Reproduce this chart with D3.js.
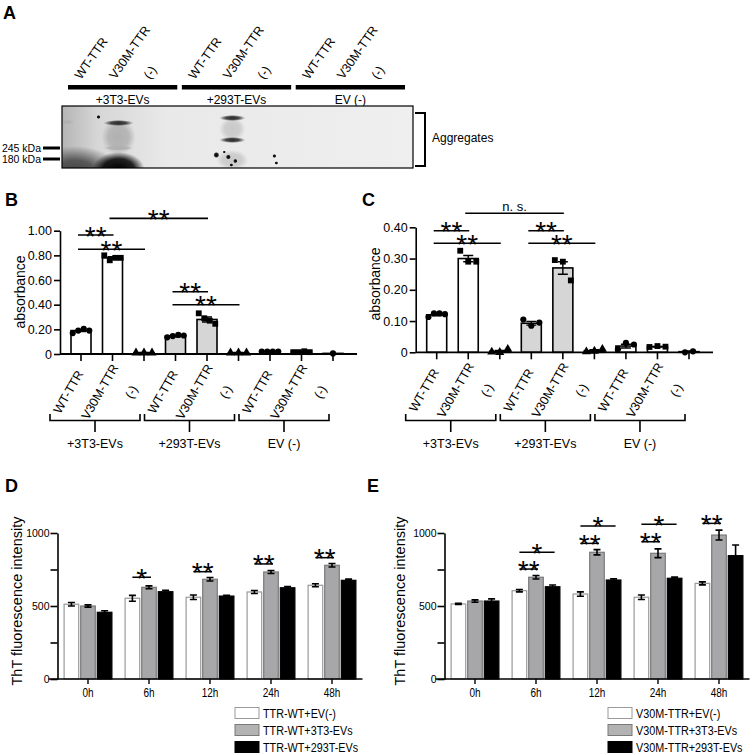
<!DOCTYPE html>
<html><head><meta charset="utf-8">
<script src="https://cdn.jsdelivr.net/npm/d3@7"></script>
<style>
body{margin:0;background:#fff}
svg{display:block;font-family:"Liberation Sans",Arial,sans-serif}
</style>
</head><body><svg id="c" width="754" height="755"></svg>
<script>
// ---------------- DATA ----------------
const laneLabels = ["WT-TTR","V30M-TTR","(-)"];
const groupLabels = ["+3T3-EVs","+293T-EVs","EV (-)"];
const markerLabels = ["245 kDa","180 kDa"];
const blotSide = "Aggregates";

const bMeans = [0.19,0.78,0.01, 0.145,0.28,0.01, 0.02,0.015,0.005];
const bErr   = [0.008,0.01,0.002, 0.005,0.02,0.002, 0.002,0.002,0];
const bPoints = [[0.17,0.19,0.205,0.19],[0.80,0.76,0.78,0.78],[0.01,0.01,0.01],
                 [0.135,0.145,0.155,0.15],[0.33,0.29,0.27,0.245],[0.01,0.01,0.01],
                 [0.02,0.02,0.02,0.02],[0.015,0.015,0.022,0.015],[0.005]];
const cMeans = [0.12,0.30,0.003, 0.093,0.27,0.005, 0.02,0.018,0.002];
const cErr   = [0.003,0.01,0.003, 0.006,0.02,0.003, 0.006,0.001,0.002];
const cPoints = [[0.113,0.125,0.125,0.122],[0.325,0.29,0.29],[0.001,0.0,0.01],
                 [0.105,0.085,0.095],[0.295,0.29,0.23],[0.002,0.004,0.01],
                 [0.01,0.03,0.025],[0.017,0.02,0.018],[0.0,0.003]];
const pointShapes = ["circle","square","triangle","circle","square","triangle","circle","square","circle"];
const bTicks = [0,0.2,0.4,0.6,0.8,1.0];
const cTicks = [0,0.1,0.2,0.3,0.4];
// [from bar, to bar, level, label]
const bSig = [[0,1,0.965,"**"],[0,2,0.85,"**"],[1,4,1.10,"**"],[3,4,0.505,"**"],[3,5,0.40,"**"]];
const cSig = [[0,1,0.389,"**"],[0,2,0.349,"**"],[1,4,0.445,"n. s."],[3,4,0.389,"**"],[3,5,0.349,"**"]];

const times = ["0h","6h","12h","24h","48h"];
const tTicks = [0,250,500,750,1000];
const dSeries = ["TTR-WT+EV(-)","TTR-WT+3T3-EVs","TTR-WT+293T-EVs"];
const dMeans = [[512,553,560,596,642],[500,628,683,733,779],[457,598,568,625,676]];
const dErr   = [[12,20,15,10,10],[8,10,12,10,12],[10,10,5,8,8]];
const eSeries = ["V30M-TTR+EV(-)","V30M-TTR+3T3-EVs","V30M-TTR+293T-EVs"];
const eMeans = [[514,605,582,560,655],[534,697,868,861,986],[534,632,678,690,845]];
const eErr   = [[4,8,15,15,10],[8,12,18,30,34],[15,12,8,8,73]];
// [time index, series a, series b, level, label]
const dSig = [[1,0,1,697,"*"],[2,0,1,735,"**"],[3,0,1,788,"**"],[4,0,1,831,"**"]];
const eSig = [[1,0,1,753,"**"],[1,0,2,868,"*"],[2,0,1,929,"**"],[2,0,2,1048,"*"],
              [3,0,1,940,"**"],[3,0,2,1060,"*"],[4,0,1,1066,"**"]];

// ---------------- DRAW ----------------
const svg = d3.select("#c");
svg.append("rect").attr("width",754).attr("height",755).attr("fill","#fff");
const defs = svg.append("defs");
const lg = defs.append("linearGradient").attr("id","lgl").attr("x1",0).attr("x2",1).attr("y1",0).attr("y2",0);
lg.append("stop").attr("offset","0").attr("stop-color","#b5b5b5");
lg.append("stop").attr("offset","0.1").attr("stop-color","#d6d6d6");
lg.append("stop").attr("offset","0.3").attr("stop-color","#e9e9e9");
lg.append("stop").attr("offset","1").attr("stop-color","#efefef");
function rg(id,color,mid){
  const r = defs.append("radialGradient").attr("id",id);
  r.append("stop").attr("offset","0").attr("stop-color",color).attr("stop-opacity",1);
  r.append("stop").attr("offset",mid||"0.55").attr("stop-color",color).attr("stop-opacity",0.85);
  r.append("stop").attr("offset","1").attr("stop-color",color).attr("stop-opacity",0);
}
rg("gBlack","#000","0.6"); rg("gDark","#2a2a2a","0.5"); rg("gMid","#444","0.45"); rg("gSmear","#b0b0b0","0.6"); rg("gLight","#c9c9c9","0.6");
defs.append("clipPath").attr("id","blotclip").append("rect").attr("x",62).attr("y",106).attr("width",351).attr("height",62);

function letter(t,x,y){ svg.append("text").attr("x",x).attr("y",y).attr("font-weight","bold").attr("font-size",18).text(t); }
function narrow(g,t,x,y,size,anchor){
  return g.append("text").attr("transform",`translate(${x},${y}) scale(0.8,1)`).attr("text-anchor",anchor||"start").attr("font-size",size).text(t);
}

// ===== Panel A =====
letter("A",3,19);
const gA = d3.scaleBand().domain(groupLabels).range([68,405]).paddingInner(0.04);
const lA = d3.scalePoint().domain(laneLabels).range([13,82]);
groupLabels.forEach(g=>{
  svg.append("rect").attr("x",gA(g)).attr("y",85).attr("width",gA.bandwidth()).attr("height",4.5).attr("fill","#000");
  svg.append("text").attr("x",gA(g)+gA.bandwidth()/2).attr("y",104).attr("text-anchor","middle").attr("font-size",12).text(g);
  laneLabels.forEach(l=>{
    svg.append("text").attr("transform",`translate(${gA(g)+lA(l)},80) rotate(-55)`).attr("font-size",12.5).text(l);
  });
});
// blot (photograph approximation with soft gradient spots)
const blot = svg.append("g").attr("clip-path","url(#blotclip)");
const bl = (g,l)=> gA(groupLabels[g])+lA(laneLabels[l])+3;
const spot = (cx,cy,rx,ry,grad)=> blot.append("ellipse").attr("cx",cx).attr("cy",cy).attr("rx",rx).attr("ry",ry).attr("fill",`url(#${grad})`);
blot.append("rect").attr("x",62).attr("y",106).attr("width",351).attr("height",62).attr("fill","url(#lgl)");
spot(75,172,45,26,"gMid");
spot(bl(0,1),137,17,18,"gSmear");
spot(bl(0,1),123,15,3,"gDark");
spot(bl(0,1),148,15,2.5,"gSmear");
spot(bl(0,1),169,26,17,"gBlack");
spot(67,122,7,2.2,"gSmear");
spot(bl(0,1)-20,117,2,2,"gBlack");
spot(bl(1,1),129,13,12,"gLight");
spot(bl(1,1),118,13,3,"gDark");
spot(bl(1,1),140,13,3,"gDark");
spot(bl(1,1),160,16,10,"gLight");
[[-16,155,3],[-4,157,2.5],[3,161,2.2],[-1,165,1.8],[42,156,2],[44,163,1.8],[-8,152,1.5]].forEach(([dx,cy,r])=>spot(bl(1,1)+dx,cy,r,r,"gBlack"));
svg.append("rect").attr("x",62).attr("y",106).attr("width",351).attr("height",62).attr("fill","none").attr("stroke","#000").attr("stroke-width",1.2);
const mkY = d3.scalePoint().domain(markerLabels).range([148,159]);
markerLabels.forEach(m=>{
  svg.append("line").attr("x1",43).attr("x2",60).attr("y1",mkY(m)).attr("y2",mkY(m)).attr("stroke","#000").attr("stroke-width",3);
  svg.append("text").attr("x",41).attr("y",mkY(m)+3.5).attr("text-anchor","end").attr("font-size",10.5).text(m);
});
svg.append("path").attr("d","M415,113H425V166H415").attr("fill","none").attr("stroke","#000").attr("stroke-width",2);
svg.append("text").attr("x",432).attr("y",142).attr("font-size",12).text(blotSide);

// ===== Panels B & C =====
function stars(g,lab,cx,yy){
  g.append("text").attr("x",cx).attr("y",yy+10.5).attr("text-anchor","middle").attr("font-size",28).text(lab);
}
function drawBC(o){
  const g = svg.append("g");
  const x = d3.scalePoint().domain(d3.range(o.means.length)).range(o.xr);
  const y = d3.scaleLinear().domain([0,o.ymax]).range(o.yr);
  const ax = o.xr[0]-21, bw=20;
  const fills = i => Math.floor(i/3)===1 ? "#d6d6d6" : "#fff";
  g.selectAll(".bar").data(o.means).join("rect")
    .attr("x",(d,i)=>x(i)-bw/2).attr("width",bw)
    .attr("y",d=>y(d)).attr("height",d=>y(0)-y(d))
    .attr("fill",(d,i)=>fills(i)).attr("stroke","#000").attr("stroke-width",1.6);
  o.means.forEach((m,i)=>{
    const e=o.err[i]; if(!e) return;
    g.append("path").attr("d",`M${x(i)},${y(m-e)}V${y(m+e)}M${x(i)-5},${y(m+e)}h10M${x(i)-5},${y(m-e)}h10`)
      .attr("stroke","#000").attr("stroke-width",1.4).attr("fill","none");
  });
  o.points.forEach((pts,i)=>{
    const n=pts.length, sp = n>3?5.5:8;
    const sym = {circle:d3.symbolCircle,square:d3.symbolSquare,triangle:d3.symbolTriangle}[pointShapes[i]];
    const size = {circle:30,square:34,triangle:36}[pointShapes[i]];
    pts.forEach((v,j)=>{
      g.append("path").attr("d",d3.symbol(sym,size)())
        .attr("transform",`translate(${x(i)+(j-(n-1)/2)*sp},${y(v)})`).attr("fill","#000");
    });
  });
  const ya = g.append("g").attr("transform",`translate(${ax},0)`)
    .call(d3.axisLeft(y).tickValues(o.ticks).tickSize(6).tickSizeOuter(0).tickPadding(2)
      .tickFormat(d=>d===0?"0":d3.format(".2f")(d)));
  ya.selectAll("text").attr("font-size",12.5).attr("font-family","Liberation Sans, Arial, sans-serif").attr("fill","#000");
  ya.selectAll("line,path").attr("stroke","#000").attr("stroke-width",1.6);
  g.append("line").attr("x1",ax).attr("x2",x(o.means.length-1)+24).attr("y1",y(0)).attr("y2",y(0)).attr("stroke","#000").attr("stroke-width",1.8);
  o.means.forEach((m,i)=>{
    g.append("line").attr("x1",x(i)).attr("x2",x(i)).attr("y1",y(0)).attr("y2",y(0)+7).attr("stroke","#000").attr("stroke-width",1.6);
    g.append("text").attr("transform",`translate(${x(i)-9},${y(0)+40}) rotate(-60)`)
      .attr("text-anchor","middle").attr("font-size",12.5).text(laneLabels[i%3]);
  });
  groupLabels.forEach((gl,k)=>{
    const x0=x(k*3)-31, x1=x(k*3+2)-4, yb=414, yh=420.5, cx=(x0+x1)/2;
    g.append("path").attr("d",`M${x0},${yb}V${yh}H${x1}V${yb}M${cx},${yh}V432`).attr("fill","none").attr("stroke","#000").attr("stroke-width",1.6);
    g.append("text").attr("x",cx).attr("y",448).attr("text-anchor","middle").attr("font-size",12.5).text(gl);
  });
  o.sig.forEach(([a,b,lev,lab])=>{
    const x0=x(a)-3, x1=x(b)+1, yy=y(lev);
    g.append("line").attr("x1",x0).attr("x2",x1).attr("y1",yy).attr("y2",yy).attr("stroke","#000").attr("stroke-width",1.6);
    if(lab==="n. s.") g.append("text").attr("x",(x0+x1)/2).attr("y",yy-2).attr("text-anchor","middle").attr("font-size",13).text(lab);
    else stars(g,lab,(x0+x1)/2,yy);
  });
  g.append("text").attr("transform",`translate(${o.lx},${o.ly}) rotate(-90)`).attr("text-anchor","middle").attr("font-size",14).text("absorbance");
}
letter("B",5,206);
drawBC({means:bMeans,err:bErr,points:bPoints,ticks:bTicks,sig:bSig,ymax:1,xr:[81,333],yr:[354,230.7],lx:25,ly:292});
letter("C",362,206);
drawBC({means:cMeans,err:cErr,points:cPoints,ticks:cTicks,sig:cSig,ymax:0.4,xr:[436.7,689],yr:[352.3,227.3],lx:380,ly:284});

// ===== Panels D & E =====
function drawTime(o){
  const g = svg.append("g");
  const x = d3.scaleBand().domain(times).range([o.ax,o.ax+305]).paddingInner(0.2).paddingOuter(0.1);
  const xs = d3.scaleBand().domain([0,1,2]).range([0,x.bandwidth()]).paddingInner(0.06);
  const y = d3.scaleLinear().domain([0,1000]).range([679,533]);
  const fill = ["#fff","#a7a7aa","#000"], stroke=["#9a9a9a","#7a7a7a","#000"];
  o.means.forEach((ser,s)=>{
    g.selectAll(null).data(ser).join("rect")
      .attr("x",(d,t)=>x(times[t])+xs(s)+0.5).attr("width",xs.bandwidth()-1)
      .attr("y",d=>y(d)).attr("height",d=>y(0)-y(d))
      .attr("fill",fill[s]).attr("stroke",stroke[s]).attr("stroke-width",1.2);
  });
  o.means.forEach((ser,s)=>ser.forEach((m,t)=>{
    const cx=x(times[t])+xs(s)+xs.bandwidth()/2, e=o.err[s][t];
    g.append("path").attr("d",`M${cx},${y(m-e)}V${y(m+e)}M${cx-3.5},${y(m+e)}h7M${cx-3.5},${y(m-e)}h7`)
      .attr("stroke","#000").attr("stroke-width",1.6).attr("fill","none");
  }));
  const ya = g.append("g").attr("transform",`translate(${o.ax},0)`)
    .call(d3.axisLeft(y).tickValues(tTicks).tickSize(7).tickSizeOuter(0).tickPadding(1)
      .tickFormat(d=>d%500===0?d:""));
  ya.selectAll("text").attr("font-size",10.5).attr("font-family","Liberation Sans, Arial, sans-serif").attr("fill","#000");
  ya.selectAll("line,path").attr("stroke","#000").attr("stroke-width",1.6);
  g.append("line").attr("x1",o.ax-9).attr("x2",o.ax+305).attr("y1",y(0)).attr("y2",y(0)).attr("stroke","#000").attr("stroke-width",1.6);
  times.forEach(t=>{
    const cx=x(t)+x.bandwidth()/2;
    g.append("line").attr("x1",cx).attr("x2",cx).attr("y1",y(0)).attr("y2",y(0)+5).attr("stroke","#000").attr("stroke-width",1.4);
    narrow(g,t,cx,697,12.5,"middle");
  });
  o.sig.forEach(([t,a,b,lev,lab])=>{
    const x0=x(times[t])+xs(a)+xs.bandwidth()/2, x1=x(times[t])+xs(b)+xs.bandwidth()/2+2, yy=y(lev);
    g.append("line").attr("x1",x0).attr("x2",x1).attr("y1",yy).attr("y2",yy).attr("stroke","#000").attr("stroke-width",1.5);
    stars(g,lab,(x0+x1)/2,yy);
  });
  g.append("text").attr("transform",`translate(${o.lx},601) rotate(-90)`).attr("text-anchor","middle").attr("font-size",14.5).text("ThT fluorescence intensity");
  const ly = d3.scalePoint().domain(o.series).range([713,747]);
  o.series.forEach((sname,s)=>{
    g.append("rect").attr("x",o.legx).attr("y",ly(sname)-5.5).attr("width",24).attr("height",11)
      .attr("fill",s===1?"#b3b3b3":fill[s]).attr("stroke",stroke[s]).attr("stroke-width",1);
    narrow(g,sname,o.legx+28,ly(sname)+4.5,13.5);
  });
}
letter("D",5,492);
drawTime({means:dMeans,err:dErr,sig:dSig,series:dSeries,ax:57.5,lx:22,legx:235});
letter("E",367,492);
drawTime({means:eMeans,err:eErr,sig:eSig,series:eSeries,ax:444.5,lx:405,legx:608});
</script>
</body></html>
